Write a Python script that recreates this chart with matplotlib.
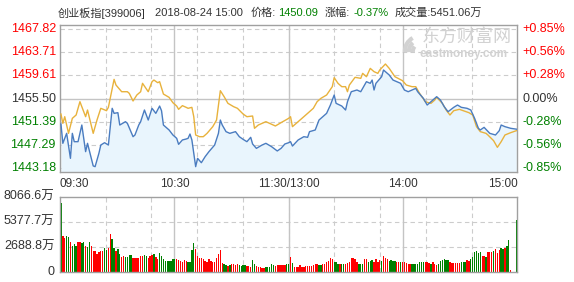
import matplotlib
matplotlib.use("Agg")
import matplotlib.pyplot as plt
import matplotlib.transforms as mtransforms
from matplotlib.patches import Arc

plt.rcParams["font.family"] = ["Liberation Sans", "Noto Sans CJK SC", "DejaVu Sans"]

PRE_CLOSE = 1455.50
price_labels = [1467.82, 1463.71, 1459.61, 1455.50, 1451.39, 1447.29, 1443.18]
pct_labels = ["+0.85%", "+0.56%", "+0.28%", "0.00%", "-0.28%", "-0.56%", "-0.85%"]
time_labels = ["09:30", "10:30", "11:30/13:00", "14:00", "15:00"]
time_label_minutes = [0, 60, 120, 180, 240]

# minute index (0 = 09:30, 240 = 15:00) and index level
price_minutes = [0, 1, 3, 5, 6, 7, 9, 11, 13, 14, 17, 18, 20, 21, 23, 25, 27, 28, 30, 31,
                 34, 35, 38, 39, 41, 42, 44, 46, 48, 50, 52, 53, 54, 57, 59, 61, 62, 64, 66, 67,
                 68, 69, 71, 72, 74, 76, 78, 81, 83, 84, 85, 87, 89, 92, 94, 96, 98, 100, 101, 103,
                 106, 108, 111, 114, 116, 118, 120, 121, 122, 125, 128, 130, 131, 134, 136, 138, 140, 142, 144, 145,
                 148, 150, 151, 153, 156, 158, 161, 163, 164, 165, 166, 169, 170, 173, 175, 179, 181, 183, 187, 188,
                 191, 193, 196, 198, 200, 202, 204, 207, 209, 211, 214, 216, 218, 220, 221, 223, 226, 229, 231, 232,
                 234, 237, 240]
price_values = [1451.00, 1447.59, 1449.35, 1444.94, 1449.35, 1447.88, 1447.88, 1450.82, 1446.12, 1447.59,
                1443.60, 1443.47, 1445.82, 1447.29, 1447.70, 1447.29, 1453.77, 1452.88, 1453.00, 1450.82,
                1451.41, 1451.12, 1448.76, 1449.06, 1450.82, 1451.41, 1453.47, 1451.70, 1453.77, 1452.88,
                1454.17, 1453.35, 1450.82, 1449.94, 1449.06, 1448.47, 1447.41, 1448.18, 1448.35, 1448.47,
                1449.23, 1448.18, 1443.47, 1444.94, 1444.17, 1445.24, 1446.12, 1447.29, 1449.35, 1451.70,
                1450.82, 1449.65, 1449.35, 1449.65, 1448.76, 1448.29, 1447.88, 1448.65, 1447.47, 1446.70,
                1447.29, 1447.59, 1447.00, 1446.24, 1446.70, 1447.47, 1447.70, 1447.88, 1447.11, 1448.18,
                1448.76, 1448.65, 1449.65, 1449.94, 1451.70, 1452.29, 1452.88, 1454.35, 1456.12, 1454.65,
                1454.17, 1453.47, 1454.94, 1456.70, 1457.00, 1456.70, 1458.47, 1458.18, 1458.76, 1457.00,
                1458.18, 1459.35, 1460.53, 1459.65, 1458.76, 1458.18, 1457.00, 1456.70, 1457.29, 1456.70,
                1455.53, 1454.35, 1455.23, 1455.82, 1455.23, 1454.06, 1453.17, 1453.94, 1454.35, 1453.94,
                1453.77, 1453.47, 1452.00, 1450.24, 1449.94, 1450.41, 1449.35, 1449.06, 1449.82, 1450.82,
                1450.53, 1450.24, 1450.09]

avg_minutes = [0, 1, 2, 4, 6, 8, 10, 13, 14, 17, 19, 21, 24, 25, 28, 29, 32, 35, 36, 38,
               40, 42, 43, 46, 48, 49, 51, 52, 54, 57, 59, 61, 62, 64, 66, 67, 69, 70, 71, 73,
               75, 77, 80, 82, 84, 86, 88, 91, 93, 96, 98, 101, 102, 104, 108, 113, 116, 120, 121, 122,
               125, 128, 130, 133, 135, 137, 140, 143, 144, 146, 148, 150, 151, 152, 155, 158, 159, 161, 163, 165,
               167, 168, 171, 173, 176, 180, 182, 185, 187, 189, 192, 195, 197, 198, 201, 203, 205, 207, 210, 212,
               215, 217, 219, 221, 224, 225, 228, 230, 232, 234, 237, 240]
avg_values = [1452.76, 1451.12, 1452.29, 1449.35, 1452.00, 1452.59, 1454.94, 1452.29, 1453.47, 1449.35,
              1451.70, 1453.77, 1453.35, 1453.94, 1458.88, 1457.88, 1456.70, 1456.70, 1456.41, 1455.06,
              1456.12, 1456.70, 1458.18, 1456.70, 1458.47, 1458.76, 1458.29, 1458.47, 1456.29, 1455.70,
              1454.76, 1454.17, 1453.59, 1454.24, 1453.94, 1453.77, 1453.94, 1452.29, 1449.06, 1448.76,
              1448.76, 1449.35, 1450.53, 1451.70, 1456.88, 1455.82, 1454.65, 1454.06, 1453.77, 1452.76,
              1452.29, 1452.41, 1450.24, 1450.82, 1451.41, 1450.65, 1451.24, 1452.00, 1452.29, 1450.53,
              1451.41, 1452.29, 1452.88, 1453.77, 1454.94, 1455.53, 1456.12, 1457.59, 1459.18, 1458.18,
              1457.59, 1457.59, 1456.70, 1457.88, 1459.24, 1459.06, 1459.94, 1459.35, 1460.82, 1460.24,
              1459.94, 1460.53, 1461.59, 1460.82, 1459.35, 1458.65, 1457.88, 1457.59, 1457.59, 1456.41,
              1454.94, 1454.65, 1455.23, 1455.70, 1454.65, 1453.47, 1452.59, 1453.35, 1453.59, 1453.35,
              1453.00, 1452.59, 1450.53, 1449.65, 1449.35, 1449.06, 1448.06, 1446.88, 1447.88, 1449.06,
              1449.47, 1449.82]

# volume per minute (万), 241 bars
volume = [7349, 3836, 3657, 3836, 3764, 3226, 2760, 2976, 2796, 3155,
          3155, 3047, 3226, 2760, 2653, 3155, 2760, 2223, 2223, 1864,
          2079, 2223, 2223, 2510, 2366, 2510, 4015, 3513, 2581, 2223,
          2438, 1900, 1613, 1721, 1577, 1613, 1793, 1793, 1506, 1506,
          1434, 1470, 1721, 1685, 1793, 1721, 1506, 1649, 1793, 1864,
          1613, 1362, 2008, 1649, 1362, 1147, 1147, 1147, 1147, 1362,
          1362, 1362, 1290, 1147, 1076, 1219, 1183, 1004, 1004, 2366,
          3047, 2438, 1721, 1506, 1506, 1362, 1147, 1004, 1362, 1147,
          1004, 1004, 1506, 1900, 2294, 896, 789, 717, 574, 717,
          789, 860, 717, 789, 717, 574, 681, 717, 609, 574,
          538, 1291, 789, 574, 540, 502, 430, 430, 466, 466,
          502, 789, 717, 645, 717, 690, 681, 717, 681, 789, 789,
          1613, 896, 538, 502, 502, 717, 502, 466, 574, 574,
          574, 574, 717, 789, 789, 717, 717, 789, 789, 1004,
          1200, 1434, 1362, 1076, 1004, 860, 789, 789, 789, 789,
          896, 1076, 1506, 1430, 1362, 1004, 860, 789, 860, 1362,
          1362, 1076, 1147, 1219, 1076, 1362, 1004, 1290, 1147, 1721,
          1506, 1362, 1147, 1219, 1147, 1147, 1004, 1004, 1076, 1076,
          1076, 968, 860, 860, 860, 789, 860, 860, 1076, 1076,
          1076, 1004, 1004, 896, 789, 1004, 860, 717, 789, 1147,
          1300, 1362, 1255, 1219, 1004, 932, 932, 932, 932, 932,
          1076, 1004, 1076, 1219, 1147, 1362, 1613, 2079, 2223, 1972,
          2079, 1721, 1721, 1613, 2079, 2079, 2079, 2223, 2438, 2043,
          2294, 2510, 2438, 2581, 2796, 3406, 179, 0, 0, 5557]
# r = up minute, g = down minute
volume_dir = ("grrggrgggr" "rggrggrrrr" "rrrggrrggr" "ggrrggggrr" "rrrrggrrrg" "rrgggggggg"
              "grrrrrrggg" "grrrrrrrrr" "rrrrrrggrg" "rrrrggggrr" "rggrrrrrgg" "gggrrrrrrgg"
              "rgrrrrrrrr" "rrrrrggrrr" "rrrgggrggr" "rrrrrrgggr" "rgggrrrrgr" "rrggggrrgr"
              "rrrrgggggg" "grrrgrrrgg" "ggggrrrrrr" "gggrrggggg" "grrgrrrgrr" "rggrggrggg")
volume_max = 8066.6
volume_ticks = [0, 2688.8, 5377.7, 8066.6]
volume_tick_labels = ["0", "2688.8万", "5377.7万", "8066.6万"]

RED = "#ff0000"
GREEN = "#008000"
GRAY = "#333333"
GRID = "#cccccc"
SOLID = "#c4c4c4"
BORDER = "#a0a0a0"
MARK = "#d2d2d2"

fig = plt.figure(figsize=(5.74, 2.82), dpi=100)
ax = fig.add_axes([60 / 574, 1 - 171.7 / 282, 457.3 / 574, 147 / 282])
axv = fig.add_axes([60 / 574, 1 - 271.7 / 282, 457.3 / 574, 75 / 282])

x0, x1 = -0.5, 240.5
y_lo, y_hi = 1442.58, 1468.53


def draw_grid(a, hlines, hsolid):
    for k in range(1, 10):
        a.axvline(x0 + (x1 - x0) * k / 10, color=GRID, lw=0.8, ls=(0, (4, 3)), zorder=0)
    for f in (0.25, 0.5, 0.75):
        a.axvline(x0 + (x1 - x0) * f, color=SOLID, lw=1.0, zorder=0.5)
    for h in hlines:
        a.axhline(h, color=SOLID if h == hsolid else GRID, lw=1.0 if h == hsolid else 0.8,
                  ls="-" if h == hsolid else (0, (4, 3)), zorder=0.5 if h == hsolid else 0)
    for s in a.spines.values():
        s.set_color(BORDER)
        s.set_linewidth(1.0)
    a.set_xticks([])
    a.set_yticks([])


# main price chart
ax.set_xlim(x0, x1)
ax.set_ylim(y_lo, y_hi)
draw_grid(ax, price_labels, PRE_CLOSE)
ax.fill_between(price_minutes, price_values, y_lo, color="#e9f5fd", lw=0, zorder=1)
ax.plot(avg_minutes, avg_values, color="#e8b23c", lw=1.0, zorder=3)
ax.plot(price_minutes, price_values, color="#4a7cc0", lw=1.0, zorder=4)

trans_l = mtransforms.blended_transform_factory(ax.transAxes, ax.transData)
for p, pct in zip(price_labels, pct_labels):
    c = RED if p > PRE_CLOSE else (GREEN if p < PRE_CLOSE else GRAY)
    ax.text(-0.009, p, f"{p:.2f}", transform=trans_l, ha="right", va="center",
            color=c, fontsize=9)
    ax.text(1.012, p, pct, transform=trans_l, ha="left", va="center",
            color=c, fontsize=9)

trans_x = mtransforms.blended_transform_factory(ax.transData, ax.transAxes)
aligns = ["left", "center", "center", "center", "right"]
for m, lab, al in zip(time_label_minutes, time_labels, aligns):
    xx = x0 if al == "left" else (x1 if al == "right" else m)
    ax.text(xx, -0.085, lab, transform=trans_x, ha=al, va="center", color=GRAY, fontsize=8.5)

# watermark: rough logo swoosh plus the site name
for r, t1, t2 in [(15, 100, 190), (11, 105, 195), (7, 110, 200)]:
    ax.add_patch(Arc((0.787, 0.82), r * 2 / 457, r * 2 / 147, theta1=t1, theta2=t2,
                     transform=ax.transAxes, color=MARK, lw=3.0, zorder=2))
ax.text(0.79, 0.915, "东方财富网", transform=ax.transAxes, ha="left", va="center",
        color=MARK, fontsize=13, zorder=2)
ax.text(0.787, 0.80, "eastmoney.com", transform=ax.transAxes, ha="left", va="center",
        color=MARK, fontsize=8.5, fontweight="bold", zorder=2)

# volume chart
axv.set_xlim(x0, x1)
axv.set_ylim(0, volume_max)
draw_grid(axv, volume_ticks[1:3], None)
colors = [RED if d == "r" else GREEN for d in volume_dir]
axv.bar(range(len(volume)), volume, width=0.72, color=colors, lw=0, zorder=2)
for v, lab in zip(volume_ticks, volume_tick_labels):
    axv.text(-0.012, v, lab, transform=mtransforms.blended_transform_factory(axv.transAxes, axv.transData),
             ha="right", va="center", color=GRAY, fontsize=9)

# title line
ty = 1 - 13 / 282
fig.text(58 / 574, ty, "创业板指[399006]", ha="left", va="center", color=GRAY, fontsize=8)
fig.text(155 / 574, ty, "2018-08-24 15:00", ha="left", va="center", color=GRAY, fontsize=8)
fig.text(251 / 574, ty, "价格:", ha="left", va="center", color=GRAY, fontsize=8)
fig.text(278 / 574, ty, "1450.09", ha="left", va="center", color=GREEN, fontsize=8)
fig.text(325 / 574, ty, "涨幅:", ha="left", va="center", color=GRAY, fontsize=8)
fig.text(353 / 574, ty, "-0.37%", ha="left", va="center", color=GREEN, fontsize=8)
fig.text(395 / 574, ty, "成交量:5451.06万", ha="left", va="center", color=GRAY, fontsize=8)

fig.savefig("out.png", dpi=100)
